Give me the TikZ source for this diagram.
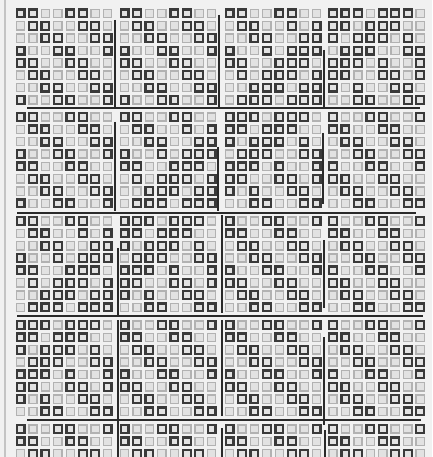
\documentclass[tikz,border=0pt]{standalone}
\definecolor{bgc}{HTML}{F1F1F1}
\definecolor{dkc}{HTML}{3A3A3A}
\definecolor{ltc}{HTML}{B2B2B2}
\definecolor{sqfill}{HTML}{E2E2E2}
\definecolor{sepc}{HTML}{2A2A2A}
\definecolor{edgec}{HTML}{C4C4C4}
\tikzset{
  dk/.style={draw=dkc, line width=2.2pt, fill=sqfill},
  lt/.style={draw=ltc, line width=1.4pt, fill=sqfill},
  sepline/.style={draw=sepc, line width=1.6pt},
  edgeline/.style={draw=edgec, line width=1.2pt}
}
% base diagonal patterns
\def\pkA{DDLLDDLL}\def\pkB{LDDLLDDL}\def\pkC{LLDDLLDD}\def\pkD{DLLDDLLD}
% noisy block A
\def\pAa{DDLLDDLL}\def\pAb{LDDLLDLD}\def\pAc{LLDDLLDD}\def\pAd{DLLDLDDD}
\def\pAe{DDLLDDDL}\def\pAf{LDLDDDLD}\def\pAg{LLDDDLDD}\def\pAh{LDDDLDDD}
% noisy block B
\def\pBa{DDDLDDDL}\def\pBb{DDLDDDLL}\def\pBc{DLDDDLDL}\def\pBd{LDDDLLDD}
\def\pBe{DDDLDLLD}\def\pBf{DDLLDDLD}\def\pBg{DLDLLDDL}\def\pBh{LLDDLLDD}
\makeatletter
\def\drawcellrow#1#2{\def\zz@y{#1}\def\zz@x{0}\edef\zz@s{#2}\expandafter\zz@loop\zz@s\relax}
\def\zz@loop#1{\ifx\relax#1\else\zz@cell#1\pgfmathtruncatemacro\zz@x{\zz@x+1}\expandafter\zz@loop\fi}
\def\zz@cell#1{%
  \pgfmathsetmacro\zz@X{{20.5,124.5,229.5,333}[int(\zz@x/8)]+mod(\zz@x,8)*12.45}%
  \pgfmathsetmacro\zz@Y{{13.5,117,221,325,429}[int(\zz@y/8)]+mod(\zz@y,8)*12.35}%
  \if D#1\draw[dk] (\zz@X-3.9,\zz@Y-3.9) rectangle (\zz@X+3.9,\zz@Y+3.9);%
  \else\draw[lt] (\zz@X-4.1,\zz@Y-4.1) rectangle (\zz@X+4.1,\zz@Y+4.1);\fi}
\makeatother
\begin{document}
\begin{tikzpicture}[x=1pt,y=-1pt]
\useasboundingbox (0,0) rectangle (432,457);
\fill[bgc] (0,0) rectangle (432,457);
\draw[edgeline] (5,0) -- (5,457);
% block row 0
\drawcellrow{0}{\pkA\pkA\pAa\pBa}
\drawcellrow{1}{\pkB\pkB\pAb\pBb}
\drawcellrow{2}{\pkC\pkC\pAc\pBc}
\drawcellrow{3}{\pkD\pkD\pAd\pBd}
\drawcellrow{4}{\pkA\pkA\pAe\pBe}
\drawcellrow{5}{\pkB\pkB\pAf\pBf}
\drawcellrow{6}{\pkC\pkC\pAg\pBg}
\drawcellrow{7}{\pkD\pkD\pAh\pBh}
% block row 1
\drawcellrow{8}{\pkA\pAa\pBa\pkD}
\drawcellrow{9}{\pkB\pAb\pBb\pkA}
\drawcellrow{10}{\pkC\pAc\pBc\pkB}
\drawcellrow{11}{\pkD\pAd\pBd\pkC}
\drawcellrow{12}{\pkA\pAe\pBe\pkD}
\drawcellrow{13}{\pkB\pAf\pBf\pkA}
\drawcellrow{14}{\pkC\pAg\pBg\pkB}
\drawcellrow{15}{\pkD\pAh\pBh\pkC}
% block row 2
\drawcellrow{16}{\pAa\pBa\pkD\pkD}
\drawcellrow{17}{\pAb\pBb\pkA\pkA}
\drawcellrow{18}{\pAc\pBc\pkB\pkB}
\drawcellrow{19}{\pAd\pBd\pkC\pkC}
\drawcellrow{20}{\pAe\pBe\pkD\pkD}
\drawcellrow{21}{\pAf\pBf\pkA\pkA}
\drawcellrow{22}{\pAg\pBg\pkB\pkB}
\drawcellrow{23}{\pAh\pBh\pkC\pkC}
% block row 3
\drawcellrow{24}{\pBa\pkD\pkD\pkD}
\drawcellrow{25}{\pBb\pkA\pkA\pkA}
\drawcellrow{26}{\pBc\pkB\pkB\pkB}
\drawcellrow{27}{\pBd\pkC\pkC\pkC}
\drawcellrow{28}{\pBe\pkD\pkD\pkD}
\drawcellrow{29}{\pBf\pkA\pkA\pkA}
\drawcellrow{30}{\pBg\pkB\pkB\pkB}
\drawcellrow{31}{\pBh\pkC\pkC\pkC}
% block row 4
\drawcellrow{32}{\pkD\pkD\pkD\pkD}
\drawcellrow{33}{\pkA\pkA\pkA\pkA}
\drawcellrow{34}{\pkB\pkB\pkB\pkB}
% horizontal separators
\draw[sepline] (27,108) -- (420,108);
\draw[sepline] (17,213) -- (416,213);
\draw[sepline] (17,316) -- (423,316);
\draw[sepline] (27,420) -- (421,420);
% vertical separators
\draw[sepline] (115,20) -- (115,108);
\draw[sepline] (219,15) -- (219,108);
\draw[sepline] (324,50) -- (324,108);
\draw[sepline] (115,122) -- (115,211);
\draw[sepline] (218,147) -- (218,211);
\draw[sepline] (323,133) -- (323,204);
\draw[sepline] (118,248) -- (118,316);
\draw[sepline] (222,215) -- (222,313);
\draw[sepline] (324,240) -- (324,308);
\draw[sepline] (118,320) -- (118,420);
\draw[sepline] (222,320) -- (222,416);
\draw[sepline] (324,337) -- (324,425);
\draw[sepline] (118,420) -- (118,457);
\draw[sepline] (222,428) -- (222,457);
\draw[sepline] (325,430) -- (325,457);
\end{tikzpicture}
\end{document}
